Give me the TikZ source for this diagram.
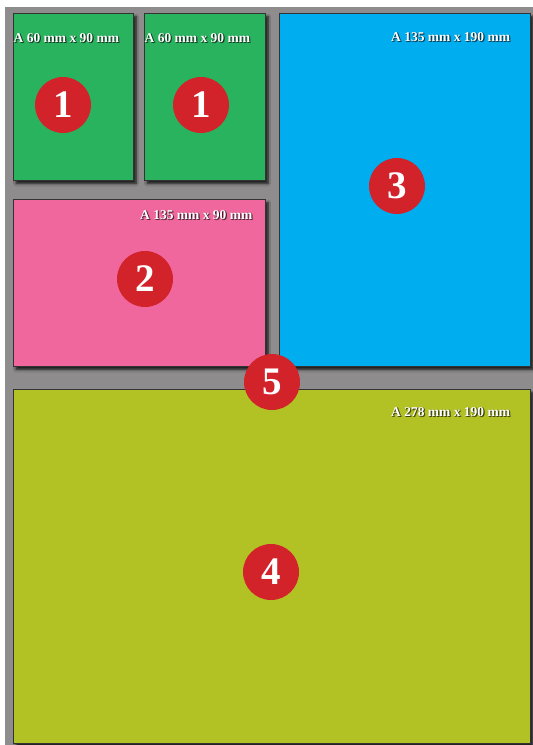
\documentclass[tikz,border=0pt]{standalone}
\usepackage{fontspec}
\setmainfont{Liberation Serif}
\usetikzlibrary{shadows.blur}
\definecolor{bggray}{HTML}{8E8C8D}
\definecolor{cgreen}{HTML}{2AB35E}
\definecolor{cpink}{HTML}{F0679E}
\definecolor{cblue}{HTML}{00ADEE}
\definecolor{colive}{HTML}{B2C225}
\definecolor{cred}{HTML}{D2232A}
\definecolor{cedge}{HTML}{333333}
\tikzset{
  card/.style={draw=cedge, line width=0.9pt, inner sep=0pt, outer sep=0pt, anchor=north west,
    blur shadow={shadow xshift=3pt, shadow yshift=-3.5pt, shadow blur radius=2.5pt, shadow blur steps=6, shadow opacity=85}},
  badge/.style={circle, fill=cred, minimum size=56pt, inner sep=0pt, text=white,
    font=\bfseries\fontsize{39}{39}\selectfont},
  lbl/.style={text=white, anchor=west, inner sep=0pt, font=\bfseries\fontsize{13.5}{13.5}\selectfont},
  lblsh/.style={lbl, text=black, opacity=0.4}
}
\newcommand{\cardlabel}[3]{%
  \node[lblsh] at ($(#2)+(1.2,1.2)$) {#3};
  \node[lblsh] at ($(#2)+(0.6,0.9)$) {#3};
  \node[lblsh] at ($(#2)+(0.9,0.4)$) {#3};
  \node[lbl] (#1) at (#2) {#3};}
\usetikzlibrary{calc}
\begin{document}
\begin{tikzpicture}[x=1pt, y=-1pt]
  \useasboundingbox (0,0) rectangle (533,745);
  \fill[bggray] (5,7) rectangle (533,745);
  % cards
  \node[card, fill=cgreen, minimum width=120pt, minimum height=167pt] (g1) at (13,13) {};
  \node[card, fill=cgreen, minimum width=121pt, minimum height=167pt] (g2) at (144,13) {};
  \node[card, fill=cblue, minimum width=251pt, minimum height=353pt] (b3) at (279,13) {};
  \node[card, fill=cpink, minimum width=252pt, minimum height=167pt] (p2) at (13,199) {};
  \node[card, fill=colive, minimum width=517pt, minimum height=354pt] (o4) at (13,389) {};
  % labels
  \cardlabel{l1}{13.5,38}{A 60 mm x 90 mm}
  \cardlabel{l2}{144.5,38}{A 60 mm x 90 mm}
  \cardlabel{l3}{391,37}{A 135 mm x 190 mm}
  \cardlabel{l4}{140,215}{A 135 mm x 90 mm}
  \cardlabel{l5}{391,412}{A 278 mm x 190 mm}
  % badges
  \node[badge] (n1a) at (63,105) {1};
  \node[badge] (n1b) at (201,105) {1};
  \node[badge] (n2) at (145,279) {2};
  \node[badge] (n3) at (397,186) {3};
  \node[badge] (n4) at (271,572) {4};
  \node[badge] (n5) at (272,382) {5};
\end{tikzpicture}
\end{document}
